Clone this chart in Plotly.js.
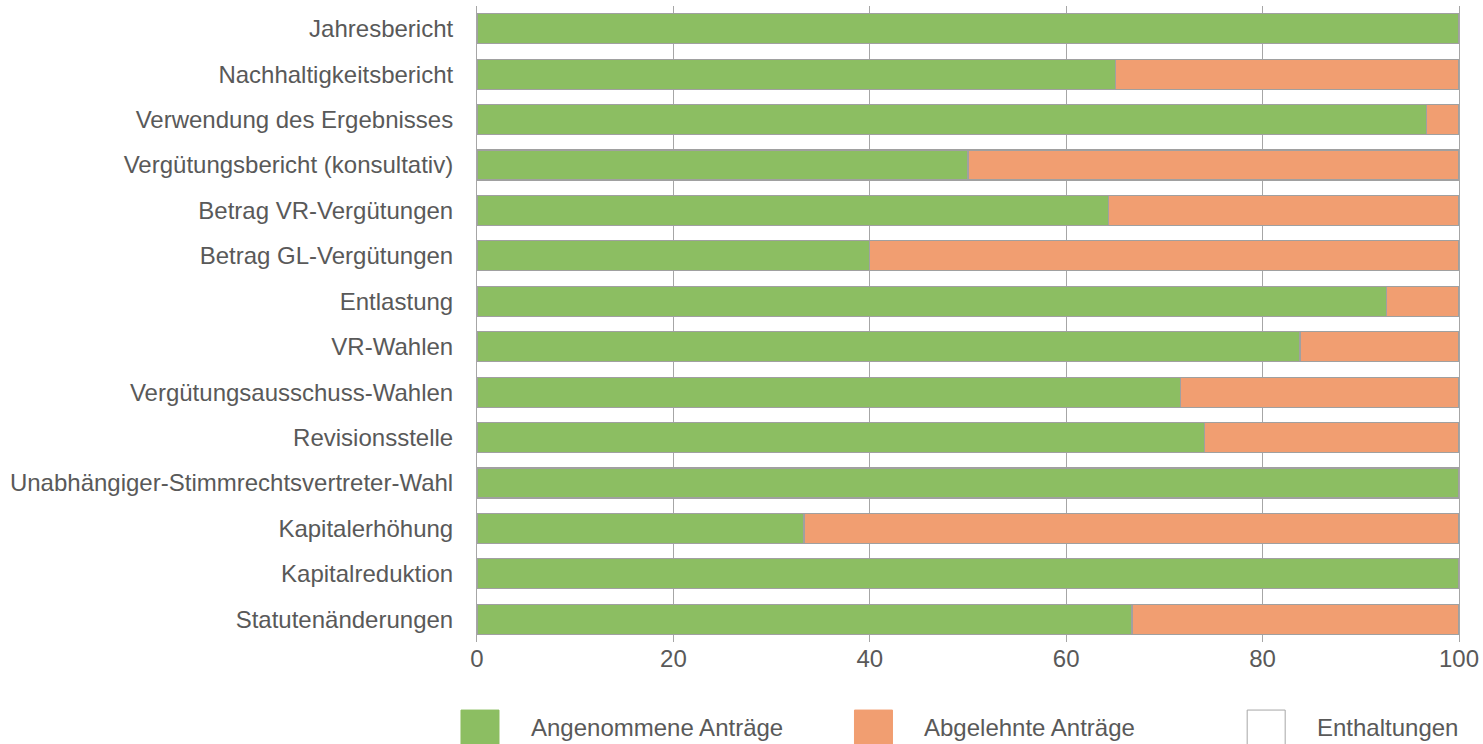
<!DOCTYPE html>
<html>
<head>
<meta charset="utf-8">
<script src="https://cdn.plot.ly/plotly-3.0.1.min.js"></script>
<style>html,body{margin:0;padding:0;background:#fff;}#chart{width:1483px;height:744px;}</style>
</head>
<body>
<div id="chart"></div>
<script>
const categories = [
  "Jahresbericht",
  "Nachhaltigkeitsbericht",
  "Verwendung des Ergebnisses",
  "Vergütungsbericht (konsultativ)",
  "Betrag VR-Vergütungen",
  "Betrag GL-Vergütungen",
  "Entlastung",
  "VR-Wahlen",
  "Vergütungsausschuss-Wahlen",
  "Revisionsstelle",
  "Unabhängiger-Stimmrechtsvertreter-Wahl",
  "Kapitalerhöhung",
  "Kapitalreduktion",
  "Statutenänderungen"
];
const accepted = [100, 65.0, 96.7, 50.0, 64.3, 40.0, 92.6, 83.8, 71.6, 74.1, 100, 33.3, 100, 66.7];
const rejected = [0, 35.0, 3.3, 50.0, 35.7, 60.0, 7.4, 16.2, 28.4, 25.9, 0, 66.7, 0, 33.3];
const abstentions = [0, 0, 0, 0, 0, 0, 0, 0, 0, 0, 0, 0, 0, 0];
const seriesNames = ["Angenommene Anträge", "Abgelehnte Anträge", "Enthaltungen"];
const xTicks = [0, 20, 40, 60, 80, 100];

const colors = ["#8CBE62", "#F19E71", "#FFFFFF"];
const border = "#A0A0A0";
const textColor = "#595959";
const font = "'Liberation Sans', Arial, sans-serif";

const seriesValues = [accepted, rejected, abstentions];
const traces = seriesValues.map((vals, i) => ({
  type: "bar",
  orientation: "h",
  name: seriesNames[i],
  y: categories,
  x: vals,
  marker: {color: colors[i], line: {color: border, width: 1.2}},
  hoverinfo: "x+y+name",
  showlegend: false
}));

// custom legend (large square swatches)
const legendX = [-0.0163, 0.3844, 0.7843];
const swW = 0.0387;
const shapes = [];
const annotations = [];
seriesNames.forEach((n, i) => {
  shapes.push({type: "rect", xref: "paper", yref: "paper",
    x0: legendX[i], x1: legendX[i] + swW, y0: -0.167, y1: -0.107,
    fillcolor: colors[i], line: {color: i === 2 ? "#A6A6A6" : colors[i], width: 1}});
  annotations.push({xref: "paper", yref: "paper", x: legendX[i] + swW + 0.0305, y: -0.135,
    xanchor: "left", yanchor: "middle", text: n, showarrow: false,
    font: {family: font, size: 24, color: textColor}});
});

const layout = {
  width: 1483, height: 744,
  margin: {l: 477, r: 24, t: 6, b: 102},
  barmode: "stack",
  bargap: 0.34,
  paper_bgcolor: "#fff", plot_bgcolor: "#fff",
  xaxis: {
    range: [0, 100], tickvals: xTicks, ticktext: xTicks.map(String),
    showgrid: true, gridcolor: "#A6A6A6", gridwidth: 1,
    zeroline: false, showline: false, ticks: "",
    tickfont: {family: font, size: 24, color: textColor},
    fixedrange: true
  },
  yaxis: {
    autorange: "reversed", type: "category",
    showgrid: false, zeroline: false,
    showline: true, mirror: true, linecolor: "#A6A6A6", linewidth: 1,
    ticks: "",
    ticklabelstandoff: 18,
    tickfont: {family: font, size: 24, color: textColor},
    fixedrange: true
  },
  shapes: shapes,
  annotations: annotations,
  showlegend: false
};

Plotly.newPlot("chart", traces, layout, {displayModeBar: false, staticPlot: true});
</script>
</body>
</html>
